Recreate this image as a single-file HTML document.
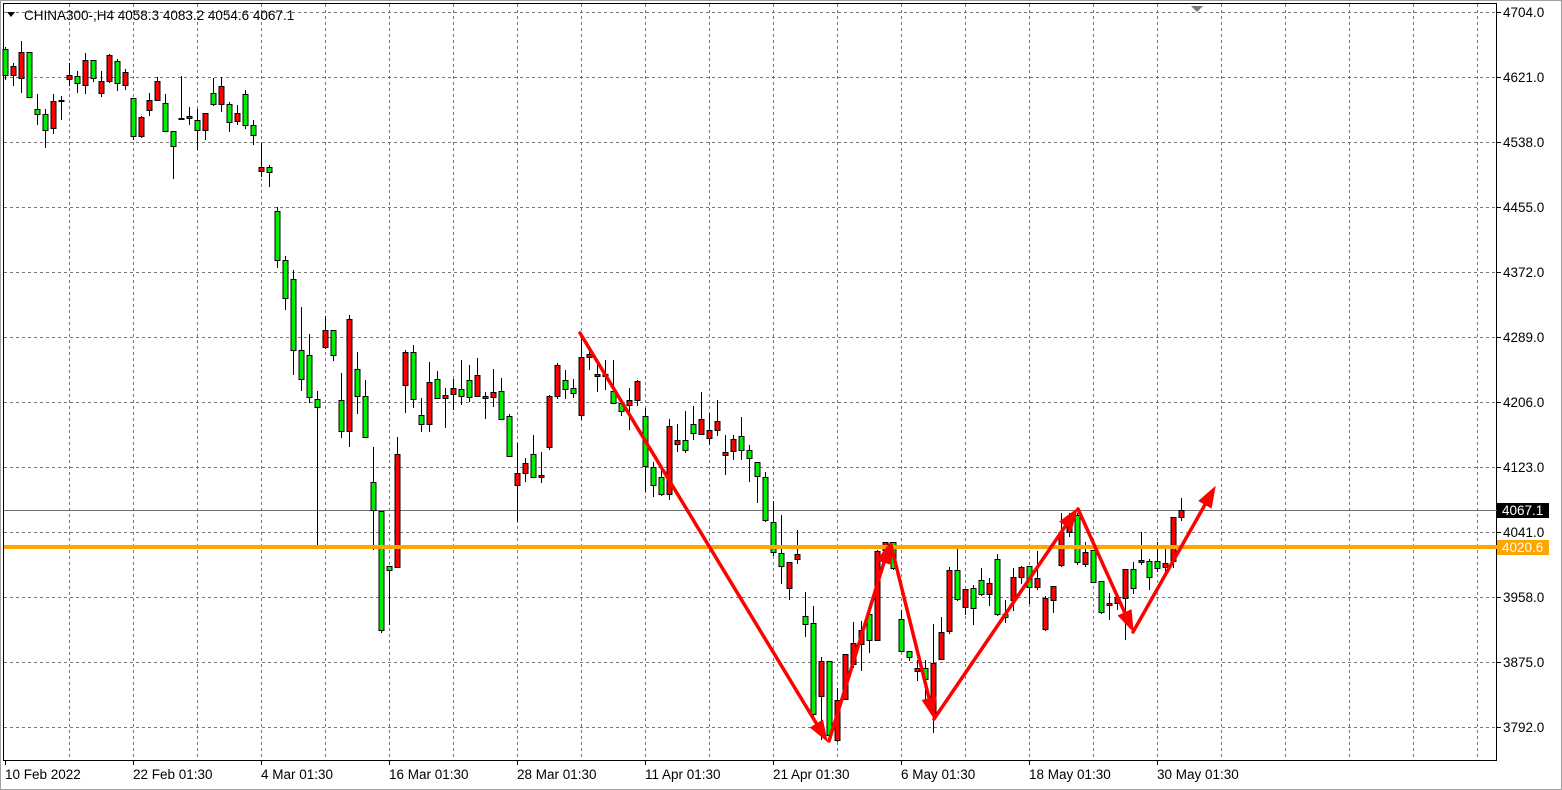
<!DOCTYPE html>
<html><head><meta charset="utf-8"><style>
html,body{margin:0;padding:0;background:#fff;}
svg{display:block;font-family:"Liberation Sans",sans-serif;}
</style></head><body>
<svg id="c" width="1562" height="790" xmlns="http://www.w3.org/2000/svg">
<rect x="0" y="0" width="1562" height="790" fill="#fff"/>
<rect x="3.5" y="3.5" width="1493" height="757" fill="none" stroke="#000" stroke-width="1"/>
<rect x="0.5" y="0.5" width="1561" height="789" fill="none" stroke="#a0a0a0" stroke-width="1"/>
<g id="grid" stroke="#777" stroke-width="1" stroke-dasharray="3,3"></g>
<line x1="4" y1="510.5" x2="1497" y2="510.5" stroke="#707070" stroke-width="1"/>
<g id="cd"></g>
<line x1="4" y1="547" x2="1497" y2="547" stroke="#FFA500" stroke-width="4"/>
<g id="ar" stroke="#ff0000" stroke-width="3.5" fill="#ff0000" stroke-linecap="round"></g>
<g font-size="13.5" fill="#000" id="ax">
<text x="24" y="20">CHINA300-,H4  4058.3 4083.2 4054.6 4067.1</text>
</g>
<polygon points="7,12 15,12 11,17" fill="#000"/>
<polygon points="1191,6 1203,6 1197,12" fill="#777"/>
<rect x="1497" y="503" width="52" height="15" fill="#000"/>
<text x="1502" y="515" font-size="13.5" fill="#fff">4067.1</text>
<rect x="1497" y="540" width="52" height="15" fill="#FFA500"/>
<text x="1502" y="552" font-size="13.5" fill="#fff">4020.6</text>
</svg>
<script>
var NS="http://www.w3.org/2000/svg";
function el(p,t,a,tx){var e=document.createElementNS(NS,t);for(var k in a)e.setAttribute(k,a[k]);if(tx)e.textContent=tx;p.appendChild(e);return e;}
var g=document.getElementById('grid'),ax=document.getElementById('ax'),svg=document.getElementById('c');
var ys=[12,77,142,207,272,337,402,467,532,597,662,727],pv=["4704.0","4621.0","4538.0","4455.0","4372.0","4289.0","4206.0","4123.0","4041.0","3958.0","3875.0","3792.0"];
ys.forEach(function(y,i){el(g,'line',{x1:4,y1:y+.5,x2:1497,y2:y+.5});el(svg,'line',{x1:1497,y1:y+.5,x2:1501,y2:y+.5,stroke:'#000'});if(i!=8)el(ax,'text',{x:1503,y:y+5},pv[i]);});
el(ax,'text',{x:1503,y:537},"4041.0");
for(var x=69;x<1497;x+=64){el(g,'line',{x1:x+.5,y1:4,x2:x+.5,y2:760});}
var dl=["10 Feb 2022","22 Feb 01:30","4 Mar 01:30","16 Mar 01:30","28 Mar 01:30","11 Apr 01:30","21 Apr 01:30","6 May 01:30","18 May 01:30","30 May 01:30"];
dl.forEach(function(t,i){var x=5+128*i;el(svg,'line',{x1:x+.5,y1:760,x2:x+.5,y2:765,stroke:'#000'});el(ax,'text',{x:x,y:779},t);});
var R='#ff0000',G='#00ee00';
var d=[
[5,49,75,47,80,G],[13,66,75,63,86,R],[21,52,78,41,93,R],[29,52,97,52,97,G],[37,109,114,94,125,G],[45,114,130,109,148,G],[53,101,128,94,134,R],[61,100,101,96,120,R],
[69,75,79,63,86,R],[77,76,83,71,93,G],[85,60,85,53,94,R],[93,60,78,60,82,G],[101,81,93,71,97,R],[109,55,81,54,83,R],[117,61,83,59,91,G],[125,72,85,69,90,R],
[133,98,136,98,140,G],[141,117,136,116,138,R],[149,100,110,93,116,R],[157,81,100,77,100,R],[165,103,131,94,132,G],[173,131,146,131,179,G],[181,118,119,76,120,R],[189,116,118,107,125,R],
[197,120,130,109,150,G],[205,113,130,113,140,R],[213,93,104,78,106,G],[221,86,104,77,112,R],[229,104,122,102,132,G],[237,113,121,105,125,R],[245,94,125,90,129,G],[253,125,135,120,145,G],
[261,167,171,143,177,R],[269,167,172,165,187,G],[277,211,260,207,268,G],[285,260,298,256,310,G],[293,279,350,270,375,G],[301,350,379,307,391,G],[309,355,397,334,403,G],[317,399,407,391,545,G],
[325,330,347,316,349,R],[333,330,355,330,361,G],[341,400,431,373,438,G],[349,319,431,315,447,R],[357,369,396,352,414,G],[365,396,437,380,437,G],[373,482,510,447,550,G],[381,511,630,511,633,G],
[389,566,570,566,625,G],[397,454,567,437,567,R],[405,352,385,350,413,R],[413,352,399,345,408,G],[421,415,424,398,432,G],[429,382,424,362,432,R],[437,379,398,371,398,G],[445,395,398,388,428,R],
[453,388,394,379,410,R],[461,389,396,360,405,G],[469,380,397,365,402,G],[477,375,396,358,397,R],[485,396,398,392,419,R],[493,392,397,369,407,R],[501,391,419,378,419,G],[509,416,456,414,456,G],
[517,473,485,443,522,R],[525,463,473,458,482,R],[533,454,477,435,478,G],[541,475,477,452,483,R],[549,396,447,395,450,R],[557,365,396,363,399,R],[565,380,389,370,399,G],[573,388,393,379,398,G],
[581,357,415,333,420,R],[589,354,357,350,370,R],[597,374,376,359,392,R],[605,374,376,360,390,R],[613,391,403,360,403,G],[621,403,411,400,416,G],[629,400,405,388,430,R],[637,381,400,380,406,R],
[645,416,466,408,492,G],[653,467,485,462,497,G],[661,477,494,470,496,G],[669,426,494,419,500,R],[677,440,444,424,452,R],[685,440,450,411,453,G],[693,424,433,406,440,G],[701,419,434,392,434,R],
[709,430,438,413,445,R],[717,421,430,400,436,R],[725,452,455,435,475,R],[733,439,451,435,460,R],[741,436,450,417,460,G],[749,450,458,445,482,G],[757,462,476,462,503,G],[765,477,520,472,522,G],
[773,522,552,501,556,G],[781,553,566,515,584,G],[789,562,588,562,600,R],[797,554,559,530,564,R],[805,616,624,592,637,G],[813,623,714,606,720,G],[821,661,696,657,740,R],[829,661,735,661,742,G],
[837,700,740,688,742,R],[845,654,699,654,700,R],[853,643,664,622,668,R],[861,630,644,621,671,R],[869,614,640,614,653,G],[877,551,640,550,640,R],[885,542,550,542,553,R],[893,542,568,542,570,G],
[901,619,651,610,652,G],[909,651,657,651,661,G],[917,668,671,660,681,R],[925,668,679,660,700,G],[933,663,713,624,733,R],[941,632,659,617,659,R],[949,570,631,567,634,R],[957,570,599,549,601,G],
[965,589,607,589,615,R],[973,588,608,585,625,G],[981,580,594,568,596,G],[989,583,594,578,606,R],[997,559,614,554,616,G],[1005,614,617,600,623,G],[1013,577,600,568,611,R],[1021,567,577,566,584,R],
[1029,566,587,566,604,G],[1037,578,587,551,590,R],[1045,598,629,596,631,R],[1053,586,600,586,613,R],[1061,532,565,513,567,R],[1069,523,532,513,537,R],[1077,515,562,513,565,G],[1085,552,564,542,567,R],
[1093,550,582,550,583,G],[1101,581,612,581,614,G],[1109,603,605,593,620,R],[1117,597,603,597,610,R],[1125,569,598,569,640,R],[1133,569,588,562,594,G],[1141,560,562,532,565,R],[1149,561,577,559,590,G],
[1157,561,568,542,572,G],[1165,563,567,545,572,R],[1173,517,561,517,568,R],[1181,510,517,498,521,R]];
var cd=document.getElementById('cd');
d.forEach(function(c){var x=c[0]+.5;el(cd,'line',{x1:x,y1:c[3],x2:x,y2:c[4],stroke:'#000','stroke-width':1});
var h=Math.max(c[2]-c[1],1);el(cd,'rect',{x:c[0]-2,y:c[1]+.5,width:5,height:h,fill:c[5],stroke:'#000','stroke-width':1});});
var arG=document.getElementById('ar');
function arrow(x1,y1,x2,y2){var a=Math.atan2(y2-y1,x2-x1),L=20,W=7;
var bx=x2-L*Math.cos(a),by=y2-L*Math.sin(a);
el(arG,'line',{x1:x1,y1:y1,x2:bx+4*Math.cos(a),y2:by+4*Math.sin(a)});
el(arG,'polygon',{points:x2+','+y2+' '+(bx+W*Math.sin(a))+','+(by-W*Math.cos(a))+' '+(bx-W*Math.sin(a))+','+(by+W*Math.cos(a)),'stroke-width':1});}
arrow(580,333,827,741);arrow(829,741,890,543);arrow(891,545,934,718);arrow(934,719,1077,509);arrow(1078,509,1133,631);arrow(1133,632,1215,487);
</script>
</body></html>
